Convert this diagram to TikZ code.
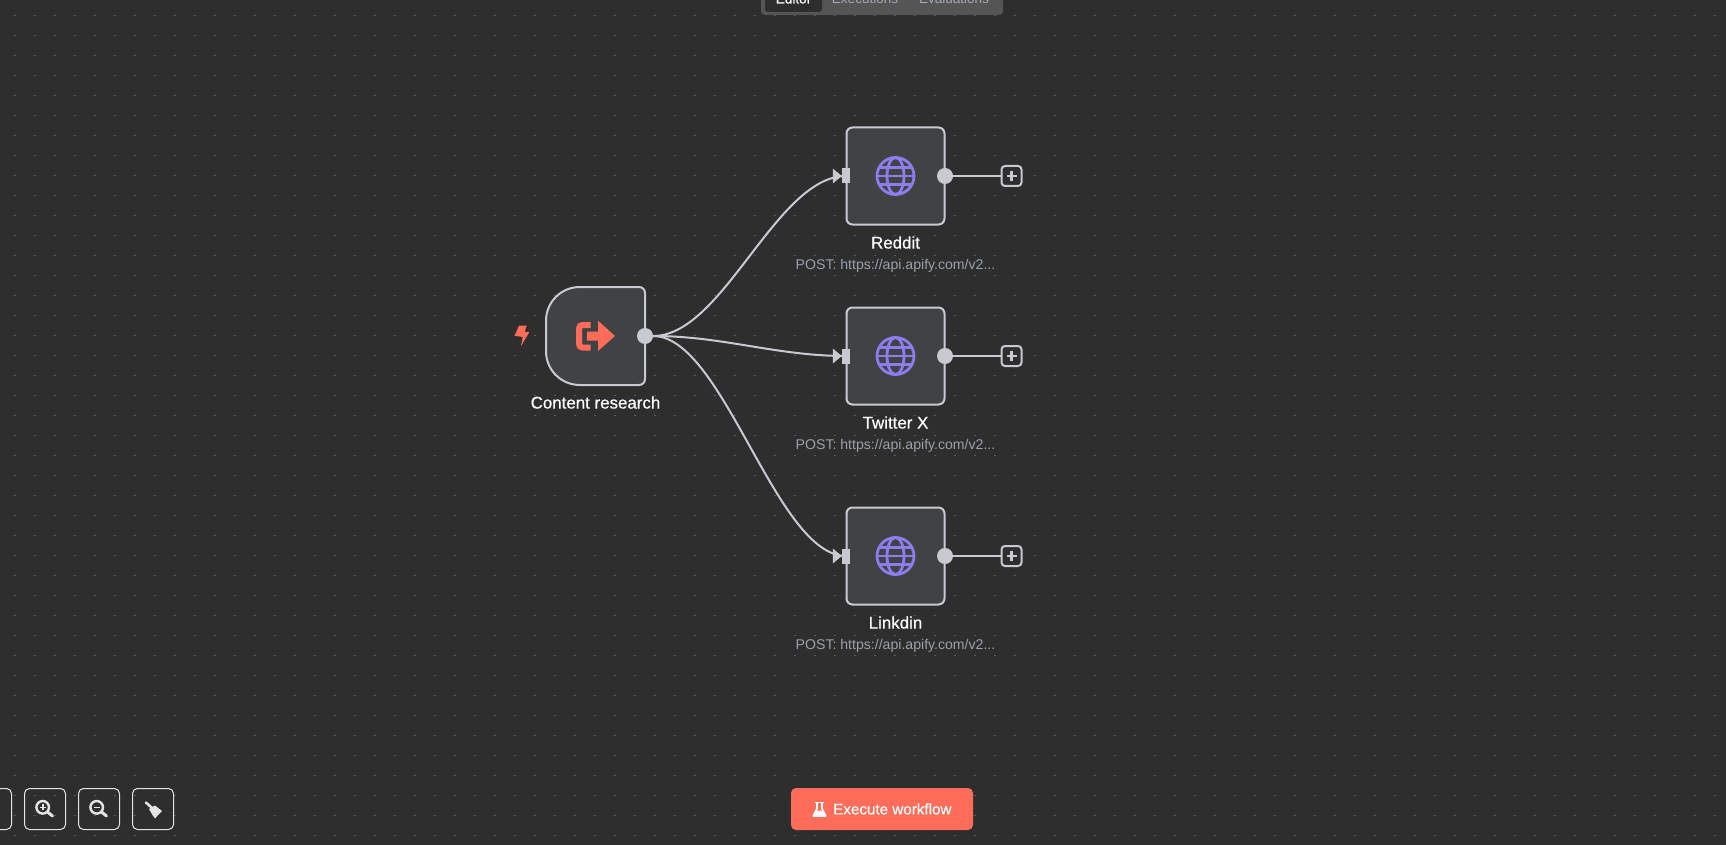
\documentclass[tikz,border=0pt]{standalone}
\usepackage{fontspec}
\setmainfont{Liberation Sans}
\newfontfamily\medfont[FakeBold=0.45]{Liberation Sans}
\definecolor{bgc}{HTML}{2E2E2E}
\definecolor{dotc}{HTML}{5C5C5C}
\definecolor{nodefill}{HTML}{414244}
\definecolor{edgec}{HTML}{C9CAD1}
\definecolor{redc}{HTML}{FF6D5A}
\definecolor{purplec}{HTML}{8C7CF0}
\definecolor{subc}{HTML}{9AA1AB}
\definecolor{panelc}{HTML}{555555}
\definecolor{btnc}{HTML}{E4E4E4}
\usetikzlibrary{calc}
\tikzset{
  x=1pt,y=-1pt,
  nodebox/.style={draw=edgec,fill=nodefill,line width=2pt,rounded corners=6pt,minimum width=98pt,minimum height=97pt,inner sep=0pt},
  outport/.style={circle,fill=edgec,minimum size=16pt,inner sep=0pt},
  inport/.style={rectangle,fill=edgec,minimum width=8pt,minimum height=15pt,inner sep=0pt},
  plusbox/.style={draw=edgec,line width=2pt,rounded corners=3.5pt,minimum size=20pt,inner sep=0pt},
  wire/.style={draw=edgec,line width=2pt},
  title/.style={text=white,font=\medfont\fontsize{16.9}{18}\selectfont,inner sep=0pt},
  sub/.style={text=subc,font=\fontsize{14.1}{16}\selectfont,inner sep=0pt},
  tool/.style={draw=btnc,line width=1pt,rounded corners=5pt,minimum size=41pt,inner sep=0pt},
  globe/.style={draw=purplec,line width=2.8pt},
  iconline/.style={draw=btnc,line width=2.4pt,line cap=round},
}
\newcommand{\globeicon}[1]{%
  \draw[globe] (#1) circle[radius=18.5];
  \draw[globe] (#1) ellipse[x radius=8.5,y radius=18.5];
  \draw[globe] ($(#1)+(-18,0)$) -- ($(#1)+(18,0)$);
  \draw[globe] ($(#1)+(-16,-8.5)$) -- ($(#1)+(16,-8.5)$);
  \draw[globe] ($(#1)+(-16,8.5)$) -- ($(#1)+(16,8.5)$);
}
\begin{document}
\begin{tikzpicture}
\useasboundingbox (0,0) rectangle (1726,845);
\clip (0,0) rectangle (1726,845);
\fill[bgc] (0,0) rectangle (1726,845);
\foreach \i in {0,...,86}{\foreach \j in {0,...,41}{
  \fill[dotc] ({14+20*\i},{15+20*\j}) rectangle +(2,1);
}}

% top tabs
\fill[panelc,rounded corners=4pt] (761,-10) rectangle (1003,15);
\fill[bgc,rounded corners=3pt] (765,-10) rectangle (822,12);
\node[text=white,font=\medfont\fontsize{13.5}{16}\selectfont,inner sep=0pt,anchor=base] (tabeditor) at (793.5,3.5) {Editor};
\node[text=subc!90!white,font=\fontsize{13.5}{16}\selectfont,inner sep=0pt,anchor=base] (tabexec) at (865,3.5) {Executions};
\node[text=subc!90!white,font=\fontsize{13.5}{16}\selectfont,inner sep=0pt,anchor=base] (tabeval) at (954,3.5) {Evaluations};

% trigger node
\path[draw=edgec,fill=nodefill,line width=2pt]
  (580,287) -- (639,287) .. controls (642.5,287) and (645,289.5) .. (645,293)
  -- (645,379) .. controls (645,382.5) and (642.5,385) .. (639,385)
  -- (580,385) .. controls (561,385) and (546,370) .. (546,351) -- (546,321)
  .. controls (546,302) and (561,287) .. (580,287) -- cycle;
\node[outport] (outC) at (645,336) {};
\node[title] (labC) at (595.5,402.5) {Content research};
\fill[redc] (519,325.5) -- (526.7,325.5) -- (524.7,331.7) -- (529.3,332.3) -- (521,346) -- (522.7,337) -- (514.7,335.7) -- cycle;
\draw[redc,line width=6pt,line cap=butt,rounded corners=3.5pt] (590.5,325) -- (579,325) -- (579,347.5) -- (590.5,347.5);
\fill[redc] (587,331.5) -- (598,331.5) -- (598,320.7) -- (615,336) -- (598,351) -- (598,340.7) -- (587,340.7) -- cycle;

% http nodes
\foreach \nm/\yy/\tx in {R/176/Reddit,T/356/Twitter X,L/556/Linkdin}{
  \node[nodebox] (box\nm) at (895.5,\yy) {};
  \globeicon{895.5,\yy}
  \node[inport] (in\nm) at (846,\yy) {};
  \fill[edgec] (in\nm.west) -- ++(-9,-7.5) -- ++(0,15) -- cycle;
  \node[outport] (out\nm) at (945,\yy) {};
  \node[plusbox] (plus\nm) at (1011.5,\yy) {};
  \draw[wire] (out\nm.east) -- (plus\nm.west);
  \draw[draw=edgec,line width=2.2pt] (1006.5,\yy) -- (1016.5,\yy) (1011.5,\yy-5) -- (1011.5,\yy+5);
  \node[title] (lab\nm) at (895.5,\yy+66.5) {\tx};
  \node[sub] (sub\nm) at (895.5,\yy+89.8) {POST: https://api.apify.com/v2...};
}

% connectors
\draw[wire] (outC.east) .. controls +(70,0) and +(-70,0) .. (inR.center);
\draw[wire] (outC.east) .. controls +(70,0) and +(-70,0) .. (inT.center);
\draw[wire] (outC.east) .. controls +(70,0) and +(-70,0) .. (inL.center);

% toolbar
\node[tool] (tool0) at (-9,809) {};
\node[tool] (tool1) at (45,809) {};
\node[tool] (tool2) at (99,809) {};
\node[tool] (tool3) at (153,809) {};
\draw[iconline] (42.7,807.3) circle[radius=6.3];
\draw[iconline,line width=3pt] (47.5,812) -- (52.5,816);
\draw[btnc,line width=1.6pt] (39.7,807.3) -- (45.7,807.3) (42.7,804.3) -- (42.7,810.3);
\draw[iconline] (96.7,807.3) circle[radius=6.3];
\draw[iconline,line width=3pt] (101.5,812) -- (106.5,816);
\draw[btnc,line width=1.6pt] (93.7,807.3) -- (99.7,807.3);
\draw[iconline,line width=2.6pt] (146,802.5) -- (152,808);
\fill[btnc] (149,809) -- (155,805.5) -- (162,811) -- (158.5,814.5) -- (155,818.5) -- (152.5,815) -- cycle;

% execute button
\node[fill=redc,rounded corners=5pt,minimum width=182pt,minimum height=42pt,inner sep=0pt] (exec) at (882,809) {};
\node[text=white,font=\medfont\fontsize{15.2}{17}\selectfont,inner sep=0pt,anchor=west] (execlab) at (833,809) {Execute workflow};
\draw[white,line width=1.7pt,line join=round] (817,803) -- (817,808.5) -- (813.3,816) -- (825.7,816) -- (822,808.5) -- (822,803);
\draw[white,line width=1.7pt] (815,802.6) -- (824,802.6);
\fill[white] (815.5,810.5) -- (823.5,810.5) -- (826,816.8) -- (813,816.8) -- cycle;
\end{tikzpicture}
\end{document}
